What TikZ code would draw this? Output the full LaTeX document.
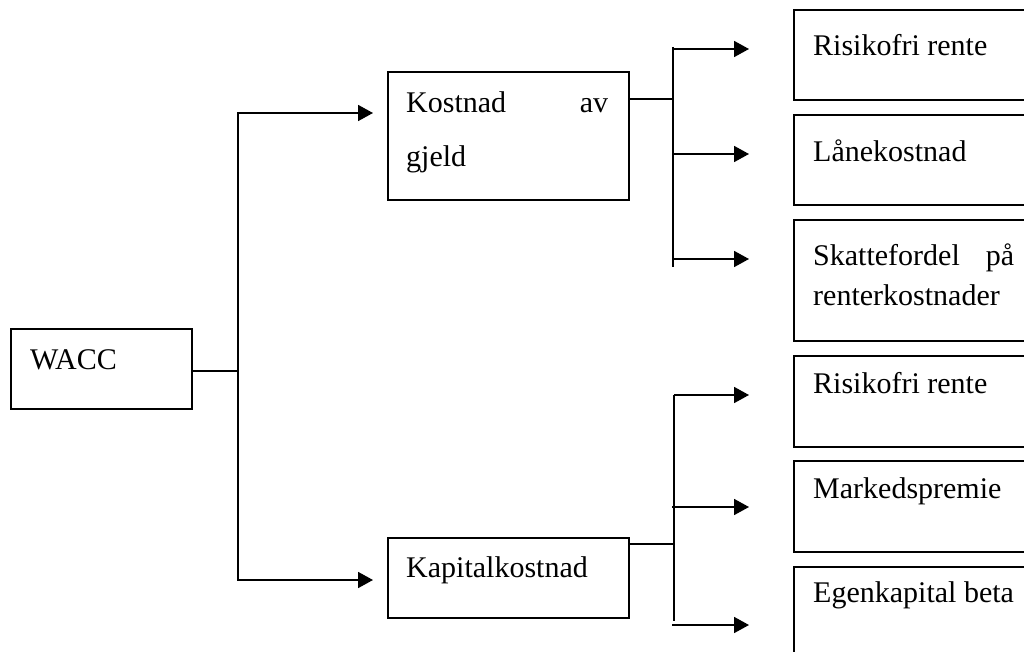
\documentclass[tikz,border=0pt]{standalone}
\usepackage{fontspec}
\setmainfont{Liberation Serif}
\usetikzlibrary{arrows.meta}
\begin{document}
\begin{tikzpicture}[x=1pt,y=-1pt,
  box/.style={draw, line width=1.8pt, rectangle, inner sep=0pt, anchor=north west},
  lbl/.style={anchor=base west, inner sep=0pt, font=\fontsize{30}{36}\selectfont},
  wire/.style={line width=1.8pt},
  arr/.style={wire, -{Triangle[length=15pt,width=16pt]}}]
\useasboundingbox (0,0) rectangle (1024,652);
\clip (0,0) rectangle (1024,652);

% root
\node[box, minimum width=181pt, minimum height=80pt] (wacc) at (10,328) {};
\node[lbl] (waccT) at (30,369) {WACC};

% second level
\node[box, minimum width=241pt, minimum height=128pt] (kg) at (387,71) {};
\node[lbl] (kgT1) at (406,113) {\hbox to 202pt{Kostnad\hfil av}};
\node[lbl] (kgT2) at (406,167) {gjeld};

\node[box, minimum width=241pt, minimum height=80pt] (kk) at (387,537) {};
\node[lbl] (kkT) at (406,577) {Kapitalkostnad};

% third level, debt side
\node[box, minimum width=260pt, minimum height=90pt] (rf1) at (793,9) {};
\node[lbl] (rf1T) at (813,56) {Risikofri rente};
\node[box, minimum width=260pt, minimum height=90pt] (lk) at (793,114) {};
\node[lbl] (lkT) at (813,162) {Lånekostnad};
\node[box, minimum width=260pt, minimum height=121pt] (sf) at (793,219) {};
\node[lbl] (sfT1) at (813,265) {\hbox to 201pt{Skattefordel\hfil på}};
\node[lbl] (sfT2) at (813,305) {renterkostnader};

% third level, equity side
\node[box, minimum width=260pt, minimum height=91pt] (rf2) at (793,355) {};
\node[lbl] (rf2T) at (813,393) {Risikofri rente};
\node[box, minimum width=260pt, minimum height=91pt] (mp) at (793,460) {};
\node[lbl] (mpT) at (813,498) {Markedspremie};
\node[box, minimum width=260pt, minimum height=120pt] (eb) at (793,566) {};
\node[lbl] (ebT) at (813,602) {Egenkapital beta};

% junctions and arrow ends
\coordinate (j1) at (238,371);
\coordinate (t1) at (373,113);
\coordinate (t2) at (373,580);
\coordinate (j2) at (673,99);
\coordinate (v2a) at (673,47);
\coordinate (v2b) at (673,267);
\coordinate (j3) at (674,544);
\coordinate (v3a) at (674,395);
\coordinate (v3b) at (674,621);
\coordinate (s1) at (673,49);
\coordinate (s2) at (673,154);
\coordinate (s3) at (673,259);
\coordinate (s4) at (674,395);
\coordinate (s5) at (672,507);
\coordinate (s6) at (672,625);
\coordinate (a1) at (749,49);
\coordinate (a2) at (749,154);
\coordinate (a3) at (749,259);
\coordinate (a4) at (749,395);
\coordinate (a5) at (749,507);
\coordinate (a6) at (749,625);

% WACC split
\draw[wire] (wacc.east |- j1) -- (j1);
\draw[arr] (j1) |- (t1);
\draw[arr] (j1) |- (t2);

% cost of debt split
\draw[wire] (kg.east |- j2) -- (j2);
\draw[wire] (v2a) -- (v2b);
\draw[arr] (s1) -- (a1);
\draw[arr] (s2) -- (a2);
\draw[arr] (s3) -- (a3);

% cost of equity split
\draw[wire] (kk.east |- j3) -- (j3);
\draw[wire] (v3a) -- (v3b);
\draw[arr] (s4) -- (a4);
\draw[arr] (s5) -- (a5);
\draw[arr] (s6) -- (a6);
\end{tikzpicture}
\end{document}
